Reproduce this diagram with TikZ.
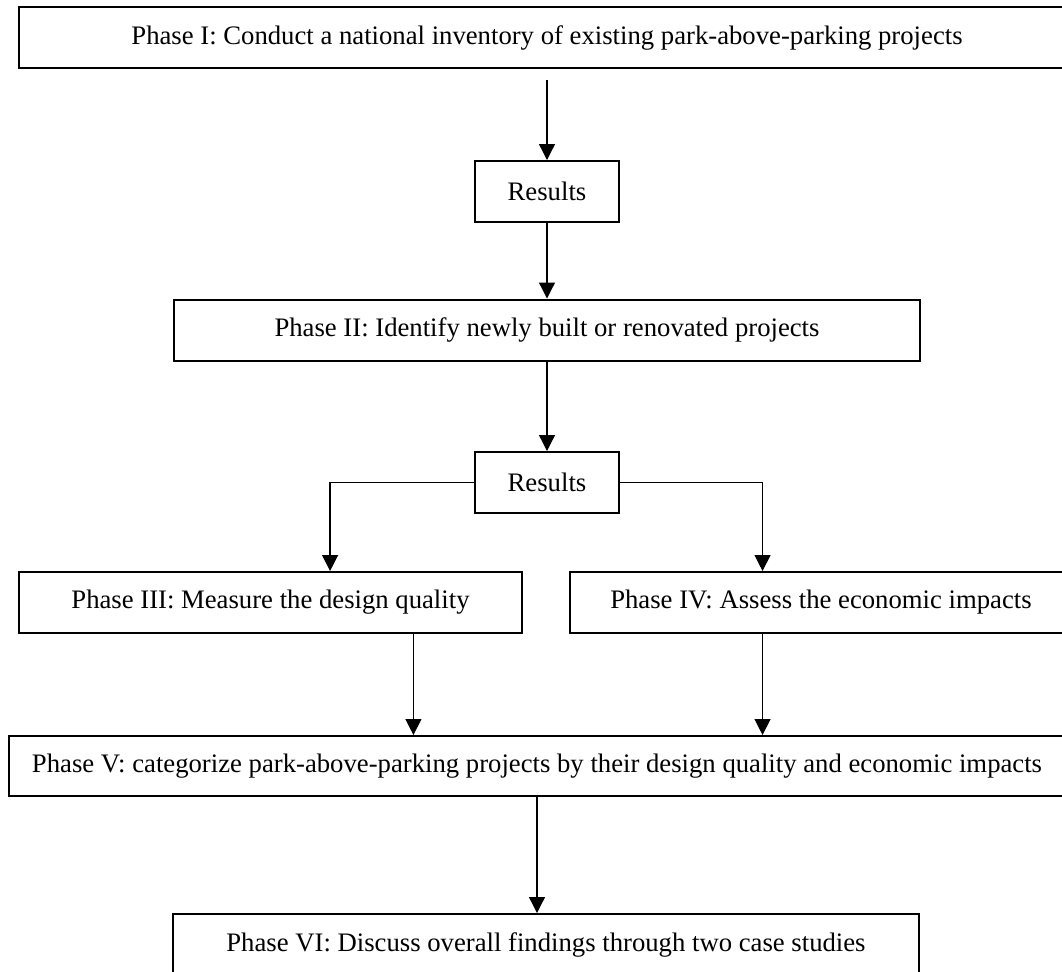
\documentclass[tikz,border=0pt]{standalone}
\usepackage{fontspec}
\setmainfont{Liberation Serif}
\usetikzlibrary{arrows.meta,calc}
\begin{document}
\begin{tikzpicture}[x=0.5pt, y=-0.5pt,
	phase/.style={draw, line width=1pt, inner sep=0pt, minimum height=30.5pt, font=\fontsize{13.35}{16}\selectfont},
	flow/.style={line width=0.65pt, -{Triangle[length=8pt, width=8pt]}}]
	\useasboundingbox (0,0) rectangle (1062,971);

	\node[phase, minimum width=528pt]   (p1)   at (547,37.5)  {Phase I: Conduct a national inventory of existing park-above-parking projects};
	\node[phase, minimum width=72pt]    (res1) at (547,191.5) {Results};
	\node[phase, minimum width=373pt]   (p2)   at (547,330)   {Phase II: Identify newly built or renovated projects};
	\node[phase, minimum width=72pt]    (res2) at (547,482.5) {Results};
	\node[phase, minimum width=251.5pt] (p3)   at (270.5,602.5) {Phase III: Measure the design quality};
	\node[phase, minimum width=251pt]   (p4)   at (821,602.5) {Phase IV: Assess the economic impacts};
	\node[phase, minimum width=528pt, minimum height=30pt] (p5) at (537,766) {Phase V: categorize park-above-parking projects by their design quality and economic impacts};
	\node[phase, minimum width=373pt, minimum height=31pt] (p6) at (546,945) {Phase VI: Discuss overall findings through two case studies};

	\coordinate (p3in)  at ($(p3.north west)!0.618!(p3.north east)$);
	\coordinate (p4in)  at ($(p4.north west)!0.384!(p4.north east)$);
	\coordinate (p3out) at ($(p3.south west)!0.783!(p3.south east)$);
	\coordinate (p4out) at ($(p4.south west)!0.384!(p4.south east)$);

	\path [flow, shorten <=5.5pt] (p1) edge (res1);
	\path [flow] (res1) edge (p2);
	\path [flow] (p2)   edge (res2);
	\draw [flow] (res2.west) -| (p3in);
	\draw [flow] (res2.east) -| (p4in);
	\draw [flow] (p3out) -- (p3out |- p5.north);
	\draw [flow] (p4out) -- (p4out |- p5.north);
	\draw [flow] (p5) -- (p5 |- p6.north);
\end{tikzpicture}
\end{document}
